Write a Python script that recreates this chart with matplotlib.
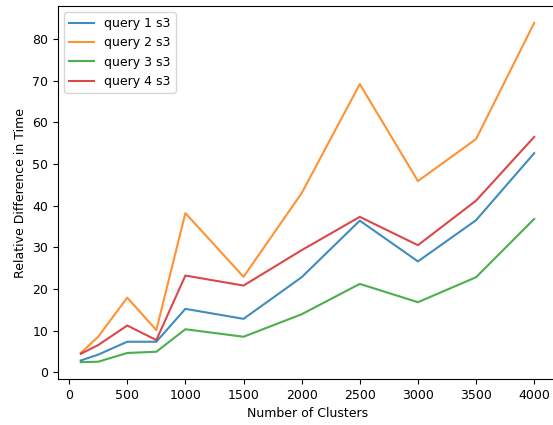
import matplotlib
matplotlib.use("Agg")
from matplotlib import pyplot as plt

clusters = [100, 250, 500, 750, 1000, 1500, 2000, 2500, 3000, 3500, 4000]
query1 = [2.8, 4.2, 7.3, 7.3, 15.2, 12.8, 22.8, 36.4, 26.6, 36.5, 52.6]
query2 = [4.6, 8.5, 17.9, 10.1, 38.2, 22.9, 43.0, 69.2, 45.9, 56.0, 83.9]
query3 = [2.4, 2.5, 4.6, 4.9, 10.3, 8.5, 13.9, 21.2, 16.8, 22.8, 36.8]
query4 = [4.4, 6.5, 11.2, 7.7, 23.2, 20.8, 29.3, 37.3, 30.5, 41.2, 56.5]

plt.rcParams['font.size'] = 9

fig = plt.figure(figsize=(5.53, 4.25), dpi=100)
ax = fig.add_subplot(111)

ax.plot(clusters, query1, label="query 1 s3", alpha=0.85)
ax.plot(clusters, query2, label="query 2 s3", alpha=0.85)
ax.plot(clusters, query3, label="query 3 s3", alpha=0.85)
ax.plot(clusters, query4, label="query 4 s3", alpha=0.85)

ax.set_xlabel("Number of Clusters")
ax.set_ylabel("Relative Difference in Time")
ax.legend(loc="upper left")

# the reference is cropped on the right, so the axes run past the edge
fig.subplots_adjust(left=0.105, right=1.007, top=0.986, bottom=0.108)
fig.savefig("out.png")
